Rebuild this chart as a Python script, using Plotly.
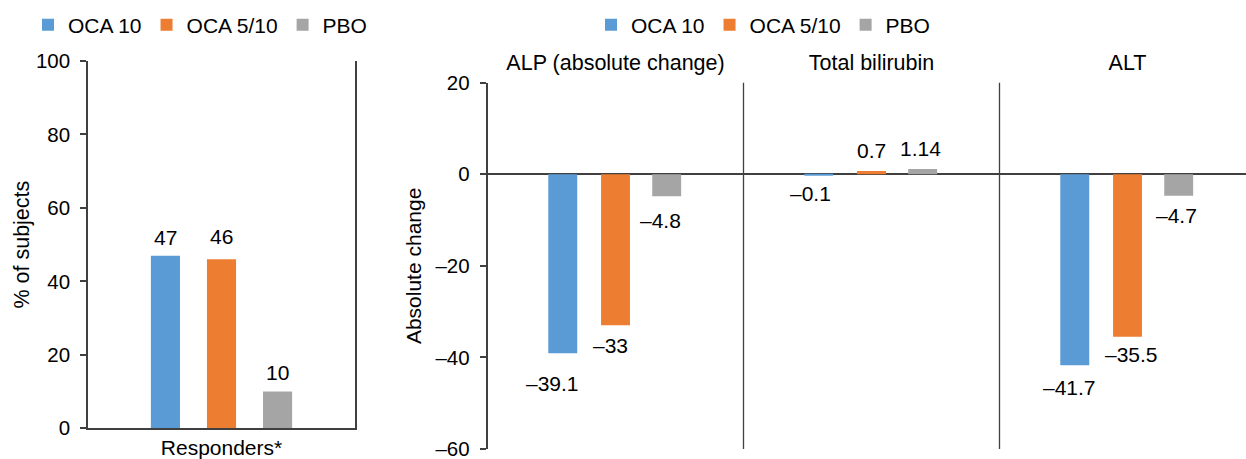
import plotly.graph_objects as go

# ---------------- data ----------------
series_names = ["OCA 10", "OCA 5/10", "PBO"]
series_colors = ["#5B9BD5", "#ED7D31", "#A5A5A5"]

left_categories = ["Responders*"]
left_values = {"OCA 10": [47], "OCA 5/10": [46], "PBO": [10]}

right_categories = ["ALP (absolute change)", "Total bilirubin", "ALT"]
right_values = {
    "OCA 10": [-39.1, -0.1, -41.7],
    "OCA 5/10": [-33, 0.7, -35.5],
    "PBO": [-4.8, 1.14, -4.7],
}

left_ticks = [0, 20, 40, 60, 80, 100]
left_ticktext = ["0", "20", "40", "60", "80", "100"]
right_ticks = [20, 0, -20, -40, -60]
right_ticktext = ["20", "0", "\u201320", "\u201340", "\u201360"]

# ---------------- style / geometry ----------------
FONT = "Liberation Sans, Arial, sans-serif"
INK = "#000000"
AXIS = "#404040"
W, H = 1246, 459

left_centers = [-0.21, 0.0, 0.21]
left_width = 0.109
right_centers = [-0.206, 0.0, 0.2]
right_width = 0.113

# per-label pixel shifts (dx, gap) for fine placement
left_label_style = {"OCA 10": [(0, 10)], "OCA 5/10": [(0, 14)], "PBO": [(0, 11)]}
right_label_style = {
    "OCA 10": [(-10, 22), (-8, 10), (-5, 14)],
    "OCA 5/10": [(-5, 12), (0, 12), (4, 9)],
    "PBO": [(-6, 16), (-2, 12), (-2, 11)],
}


def fmt(v):
    s = f"{v:g}"
    return s.replace("-", "\u2013")


fig = go.Figure()

for i, name in enumerate(series_names):
    fig.add_trace(go.Bar(
        x=left_categories, y=left_values[name], name=name,
        marker=dict(color=series_colors[i], line=dict(width=0)),
        width=left_width, offset=left_centers[i] - left_width / 2,
        xaxis="x", yaxis="y", legend="legend", hoverinfo="skip",
    ))
for i, name in enumerate(series_names):
    fig.add_trace(go.Bar(
        x=right_categories, y=right_values[name], name=name,
        marker=dict(color=series_colors[i], line=dict(width=0)),
        width=right_width, offset=right_centers[i] - right_width / 2,
        xaxis="x2", yaxis="y2", legend="legend2", hoverinfo="skip",
    ))

LABEL_SIZE = 21
annotations = []
for i, name in enumerate(series_names):
    for j, v in enumerate(left_values[name]):
        dx, gap = left_label_style[name][j]
        annotations.append(dict(
            x=j + left_centers[i], y=v, xref="x", yref="y", text=fmt(v),
            showarrow=False, xanchor="center",
            yanchor="bottom" if v >= 0 else "top",
            yshift=(gap - 5) if v >= 0 else -(gap - 5), xshift=dx,
            font=dict(family=FONT, size=LABEL_SIZE, color=INK),
        ))
    for j, v in enumerate(right_values[name]):
        dx, gap = right_label_style[name][j]
        annotations.append(dict(
            x=j + right_centers[i], y=v, xref="x2", yref="y2", text=fmt(v),
            showarrow=False, xanchor="center",
            yanchor="bottom" if v >= 0 else "top",
            yshift=(gap - 5) if v >= 0 else -(gap - 5), xshift=dx,
            font=dict(family=FONT, size=LABEL_SIZE, color=INK),
        ))

shapes = []
for b in [0.5, 1.5]:
    shapes.append(dict(type="line", xref="x2", yref="y2 domain",
                       x0=b, x1=b, y0=0, y1=1,
                       line=dict(color=AXIS, width=1.3)))

tickfont = dict(family=FONT, size=20.5, color=INK)

fig.update_layout(
    width=W, height=H,
    margin=dict(l=0, r=0, t=0, b=0),
    paper_bgcolor="white", plot_bgcolor="white",
    barmode="overlay",
    font=dict(family=FONT, color=INK),
    showlegend=True,
    annotations=annotations,
    shapes=shapes,
    xaxis=dict(
        domain=[88 / W, 355 / W], range=[-0.5, 0.5],
        showline=True, linecolor=AXIS, linewidth=1.5,
        ticks="", showgrid=False, zeroline=False,
        tickfont=dict(family=FONT, size=21, color=INK),
        ticklabelstandoff=0, ticklabeloverflow="allow",
        automargin=False, fixedrange=True,
    ),
    yaxis=dict(
        domain=[1 - 428.3 / H, 1 - 61 / H], range=[0, 100],
        tickvals=left_ticks, ticktext=left_ticktext,
        showline=True, mirror=True, linecolor=AXIS, linewidth=1.5,
        ticks="outside", ticklen=6, tickcolor=AXIS, tickwidth=1.5,
        showgrid=False, zeroline=False, tickfont=tickfont,
        ticklabelstandoff=6, ticklabeloverflow="allow",
        title=dict(text="% of subjects", font=dict(family=FONT, size=21.5, color=INK),
                   standoff=0),
        automargin=False, fixedrange=True,
    ),
    xaxis2=dict(
        domain=[487.5 / W, 1.0], range=[-0.5, -0.5 + (W - 487.5) / 256],
        side="top", anchor="y2",
        showline=False, ticks="", showgrid=False, zeroline=False,
        tickfont=dict(family=FONT, size=21.5, color=INK),
        ticklabelstandoff=7, ticklabeloverflow="allow",
        automargin=False, fixedrange=True,
    ),
    yaxis2=dict(
        domain=[1 - 449 / H, 1 - 82.7 / H], range=[-60, 20], anchor="x2",
        tickvals=right_ticks, ticktext=right_ticktext,
        showline=True, linecolor=AXIS, linewidth=1.5,
        ticks="outside", ticklen=6, tickcolor=AXIS, tickwidth=1.5,
        showgrid=False, zeroline=True, zerolinecolor=AXIS, zerolinewidth=1.5,
        tickfont=tickfont, ticklabelstandoff=6, ticklabeloverflow="allow",
        title=dict(text="Absolute change", font=dict(family=FONT, size=21, color=INK),
                   standoff=8),
        automargin=False, fixedrange=True,
    ),
    legend=dict(
        orientation="h", x=28 / W, xanchor="left", y=1 - 25 / H, yanchor="middle",
        font=dict(family=FONT, size=21, color=INK), bgcolor="rgba(0,0,0,0)",
        itemclick=False, itemdoubleclick=False,
    ),
    legend2=dict(
        orientation="h", x=591 / W, xanchor="left", y=1 - 25 / H, yanchor="middle",
        font=dict(family=FONT, size=21, color=INK), bgcolor="rgba(0,0,0,0)",
        itemclick=False, itemdoubleclick=False,
    ),
)

fig.write_html(
    "out.html",
    config={"displayModeBar": False},
    post_script="document.body.style.margin='0';document.body.style.overflow='hidden';",
)
